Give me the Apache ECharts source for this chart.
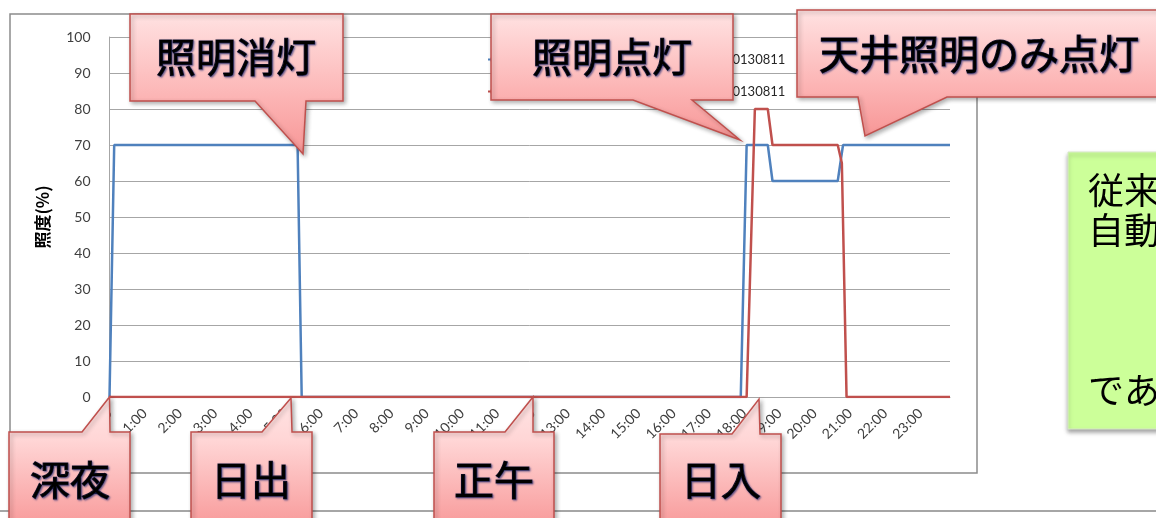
<!DOCTYPE html>
<html><head><meta charset="utf-8">
<script src="https://cdn.jsdelivr.net/npm/echarts@6/dist/echarts.min.js"></script>
<style>html,body{margin:0;padding:0;background:#fff;overflow:hidden}#c{width:1156px;height:518px}</style>
</head><body><div id="c"></div>
<script>
// ---- data (time in minutes from 0:00, value = 照度 %) ----
const seriesNames = ['天井照明 調光率 20130811', '窓側照明 調光率 20130811'];
const legendPrefixes = ['天井照明 調光率', '窓側照明 調光率'];
const legendDates = ['20130811', '20130811'];
const blueMinutes = [0, 8, 320, 327, 1074, 1084, 1120, 1128, 1239, 1248, 1430];
const blueValues  = [0, 70, 70, 0, 0, 70, 70, 60, 60, 70, 70];
const redMinutes  = [0, 1084, 1098, 1120, 1128, 1239, 1246, 1254, 1430];
const redValues   = [0, 0, 80, 80, 70, 70, 65, 0, 0];
const hourLabels  = ['0:00','1:00','2:00','3:00','4:00','5:00','6:00','7:00','8:00','9:00','10:00','11:00',
                     '12:00','13:00','14:00','15:00','16:00','17:00','18:00','19:00','20:00','21:00','22:00','23:00'];
const yAxisTitle = '照度(%)';
const calloutTexts = ['照明消灯', '照明点灯', '天井照明のみ点灯', '深夜', '日出', '正午', '日入'];
const noteLines = ['従来の', '自動の', 'である'];

const pairs = (xs, ys) => xs.map((x, i) => [x, ys[i]]);

const chart = echarts.init(document.getElementById('c'), null, {renderer: 'canvas'});
const LAB = 'Lato, "Liberation Sans", sans-serif';
const JP = '"Noto Sans CJK JP", sans-serif';

function topCallout(x1, y1, x2, y2, bl, br, tx, ty) {
  return [[x1,y1],[x2,y1],[x2,y2],[br,y2],[tx,ty],[bl,y2],[x1,y2]];
}
function bottomCallout(x1, y1, x2, y2, bl, br, tx, ty) {
  return [[x1,y1],[bl,y1],[tx,ty],[br,y1],[x2,y1],[x2,y2],[x1,y2]];
}
const topGrad = () => new echarts.graphic.LinearGradient(0,0,0,1,[{offset:0,color:'#FFE2E2'},{offset:0.6,color:'#FCB4B4'},{offset:1,color:'#F79696'}]);
const botGrad = () => new echarts.graphic.LinearGradient(0,0,0,1,[{offset:0,color:'#FFE4E4'},{offset:0.3,color:'#FFD6D6'},{offset:1,color:'#F79090'}]);

const shapes = [
  {pts: topCallout(130,14,343,101,255,306,303,154), g: topGrad, tx: 236, ty: 57},
  {pts: topCallout(491,14,733,100,633,692,740,140), g: topGrad, tx: 612, ty: 57},
  {pts: topCallout(797,10,1175,97,858,947,865,136), g: topGrad, tx: 979, ty: 54},
  {pts: bottomCallout(9,432,130,540,82,110,109.5,397), g: botGrad, tx: 70, ty: 480},
  {pts: bottomCallout(191,432,312,540,262,292,291,398), g: botGrad, tx: 251, ty: 480},
  {pts: bottomCallout(434,432,554,540,505,533,533,397), g: botGrad, tx: 494, ty: 480},
  {pts: bottomCallout(660,434,781,540,732,760,759,399), g: botGrad, tx: 721, ty: 480}
];

const elements = [
  {type:'rect', z: 1, silent:true, shape:{x:10,y:14,width:967,height:459}, style:{fill:'none', stroke:'#8C8C8C', lineWidth:1.5}},
  {type:'line', z: 1, silent:true, shape:{x1:0,y1:511,x2:1156,y2:511}, style:{stroke:'#A6A6A6', lineWidth:2}},
  {type:'rect', z: 50, silent:true, shape:{x:1068,y:152,width:120,height:277},
   style:{fill:'#CCFF99', stroke:'#D8E8C8', lineWidth:1, shadowColor:'rgba(0,0,0,0.35)', shadowBlur:4, shadowOffsetX:0, shadowOffsetY:3}},
  {type:'text', z: 51, silent:true, x:1088, y:190, style:{text: noteLines[0], font:'36px ' + JP, fill:'#000', align:'left', verticalAlign:'middle'}},
  {type:'text', z: 51, silent:true, x:1088, y:230, style:{text: noteLines[1], font:'36px ' + JP, fill:'#000', align:'left', verticalAlign:'middle'}},
  {type:'text', z: 51, silent:true, x:1088, y:390, style:{text: noteLines[2], font:'36px ' + JP, fill:'#000', align:'left', verticalAlign:'middle'}}
];
shapes.forEach((s, i) => {
  elements.push({type:'polygon', z: 100, silent:true, shape:{points: s.pts},
    style:{fill: s.g(), stroke:'#C0504D', lineWidth:1.5, shadowColor:'rgba(0,0,0,0.3)', shadowBlur:4, shadowOffsetX:2, shadowOffsetY:2}});
  elements.push({type:'text', z: 101, silent:true, x: s.tx, y: s.ty,
    style:{text: calloutTexts[i], font:'40px ' + JP, fill:'#000', stroke:'#10102a', lineWidth:1.1, align:'center', verticalAlign:'middle',
      textShadowColor:'rgba(30,40,110,0.6)', textShadowBlur:2, textShadowOffsetX:1, textShadowOffsetY:1}});
});

chart.setOption({
  animation: false,
  backgroundColor: '#fff',
  grid: {left: 109.5, right: 206, top: 37, bottom: 121, containLabel: false, outerBoundsMode: 'none'},
  legend: {
    show: true, orient: 'vertical', left: 482, top: 48, itemGap: 19, itemWidth: 16, itemHeight: 14,
    textStyle: {fontFamily: LAB, fontSize: 13, color: '#262626',
      rich: {p: {width: 216, fontFamily: JP, fontSize: 13, color: '#262626'}, d: {fontFamily: LAB, fontSize: 13, color: '#262626'}}},
    formatter: name => {
      const i = seriesNames.indexOf(name);
      return '{p|' + legendPrefixes[i] + '}{d|' + legendDates[i] + '}';
    },
    data: seriesNames
  },
  xAxis: {
    type: 'value', min: 0, max: 1430, interval: 60,
    axisLine: {show: true, lineStyle: {color: '#A6A6A6', width: 1}},
    axisTick: {show: false},
    splitLine: {show: false},
    axisLabel: {
      rotate: 45, margin: 14, fontFamily: LAB, fontSize: 14, color: '#404040',
      formatter: v => (v % 60 === 0 ? hourLabels[v / 60] : '')
    }
  },
  yAxis: {
    type: 'value', min: 0, max: 100, interval: 10,
    name: yAxisTitle, nameLocation: 'middle', nameRotate: 90, nameGap: 58,
    nameTextStyle: {fontFamily: JP, fontSize: 17, fontWeight: 'bold', color: '#000'},
    axisLine: {show: true, lineStyle: {color: '#A6A6A6', width: 1}},
    axisTick: {show: false},
    splitLine: {show: true, lineStyle: {color: '#A6A6A6', width: 1}},
    axisLabel: {margin: 19, fontFamily: LAB, fontSize: 14, color: '#404040'}
  },
  series: [
    {name: seriesNames[0], type: 'line', data: pairs(blueMinutes, blueValues), symbol: 'none',
     lineStyle: {color: '#4F81BD', width: 2.5}, itemStyle: {color: '#4F81BD'}, z: 3},
    {name: seriesNames[1], type: 'line', data: pairs(redMinutes, redValues), symbol: 'none',
     lineStyle: {color: '#C0504D', width: 2.5}, itemStyle: {color: '#C0504D'}, z: 4}
  ],
  graphic: {elements: elements}
});
</script>
</body></html>
